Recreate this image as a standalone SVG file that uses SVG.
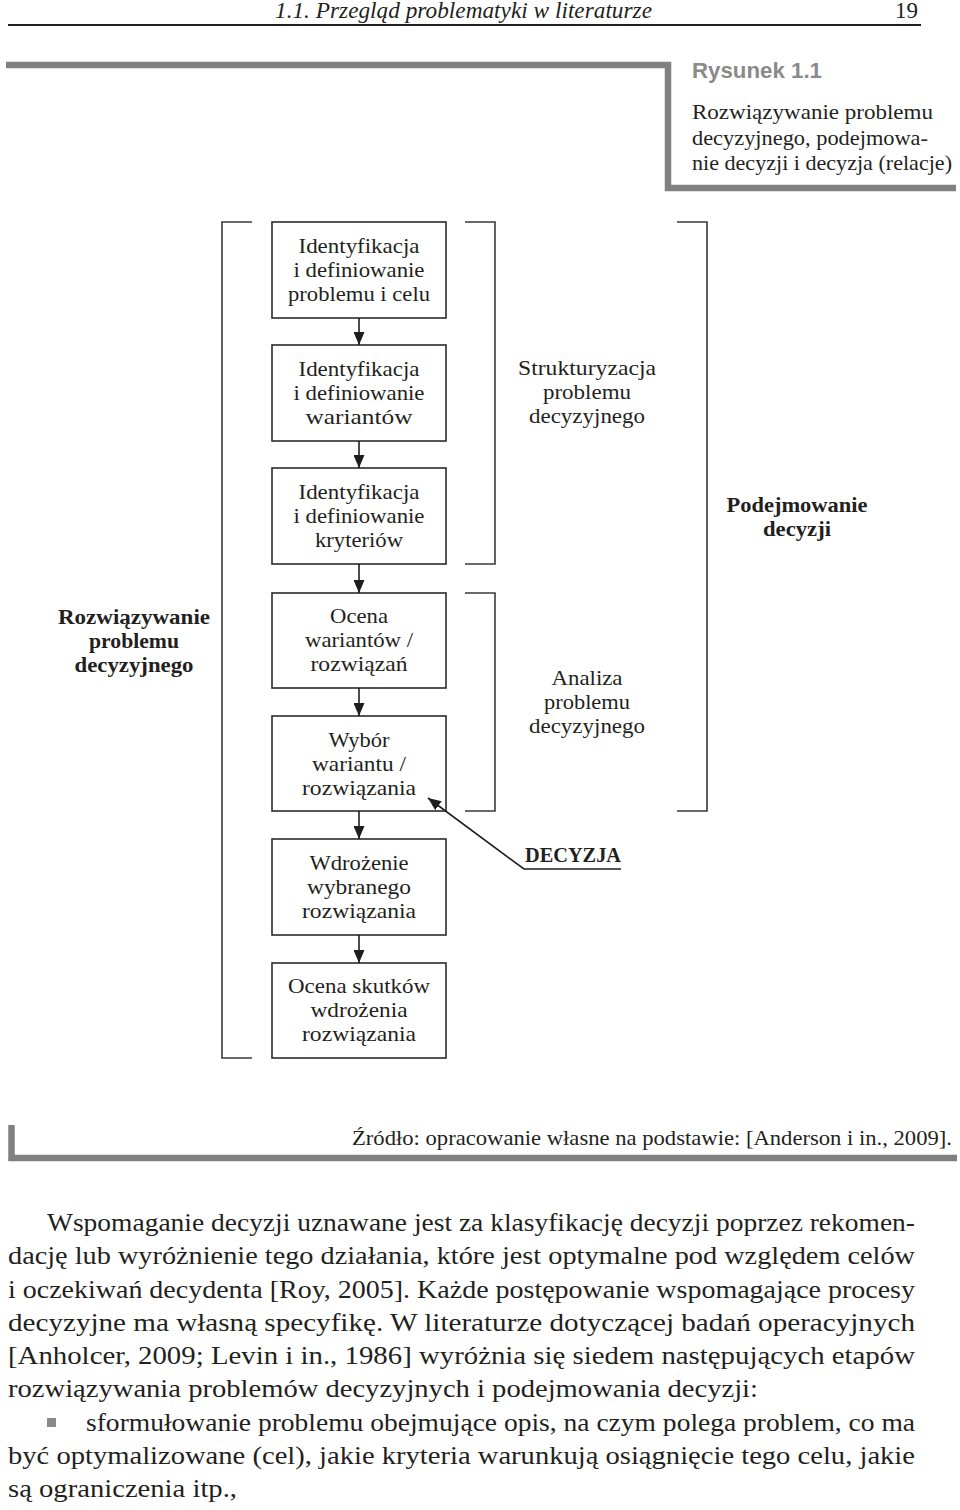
<svg xmlns="http://www.w3.org/2000/svg" width="960" height="1510" viewBox="0 0 960 1510">
<style>
  .bg{fill:#ffffff}
  .box{fill:#ffffff;stroke:#2b2b2b;stroke-width:1.6}
  .br{fill:none;stroke:#3a3a3a;stroke-width:1.6}
  .conn{fill:none;stroke:#1e1e1e;stroke-width:1.6}
  .frame{fill:none;stroke:#808080;stroke-width:6.5;stroke-linejoin:miter}
  .t{font-family:"Liberation Serif","Times New Roman",serif;font-size:22px;fill:#231f20;text-anchor:middle}
  .b{font-family:"Liberation Serif","Times New Roman",serif;font-size:22px;font-weight:bold;fill:#231f20;text-anchor:middle}
  .body{font-family:"Liberation Serif","Times New Roman",serif;font-size:25px;fill:#231f20}
  .cap{font-family:"Liberation Serif","Times New Roman",serif;font-size:21px;fill:#231f20}
  .src{font-family:"Liberation Serif","Times New Roman",serif;font-size:22px;fill:#231f20}
  .hdr{font-family:"Liberation Serif","Times New Roman",serif;font-size:23px;font-style:italic;fill:#231f20}
  .pg{font-family:"Liberation Serif","Times New Roman",serif;font-size:23px;fill:#231f20}
  .rys{font-family:"Liberation Sans",Arial,sans-serif;font-size:22px;font-weight:bold;fill:#8a8a8a}
</style>
<defs>
  <marker id="ah" markerUnits="userSpaceOnUse" markerWidth="13" markerHeight="11" refX="13" refY="5.5" orient="auto">
    <path d="M0,0 L13,5.5 L0,11 z" fill="#1e1e1e"/>
  </marker>
</defs>
<rect class="bg" x="0" y="0" width="960" height="1510"/>

<!-- page header -->
<g id="header">
  <text class="hdr" x="275" y="18" textLength="377" lengthAdjust="spacingAndGlyphs">1.1. Przegląd problematyki w literaturze</text>
  <text class="pg" x="895" y="18">19</text>
  <line x1="8" y1="25" x2="921" y2="25" stroke="#231f20" stroke-width="2"/>
</g>

<!-- figure caption frame -->
<g id="caption">
  <path class="frame" d="M6,65 L668,65 L668,188 L956,188"/>
  <text class="rys" x="692" y="78" textLength="130" lengthAdjust="spacingAndGlyphs">Rysunek 1.1</text>
  <text class="cap" x="692" y="119" textLength="241" lengthAdjust="spacingAndGlyphs">Rozwiązywanie problemu</text>
  <text class="cap" x="692" y="145" textLength="236" lengthAdjust="spacingAndGlyphs">decyzyjnego, podejmowa-</text>
  <text class="cap" x="692" y="170" textLength="260" lengthAdjust="spacingAndGlyphs">nie decyzji i decyzja (relacje)</text>
</g>

<!-- brackets -->
<g id="brackets">
  <path class="br" d="M252,222 L222,222 L222,1058 L252,1058"/>
  <path class="br" d="M465,222 L495,222 L495,564 L465,564"/>
  <path class="br" d="M677,222 L707,222 L707,811 L677,811"/>
  <path class="br" d="M465,593 L495,593 L495,811 L465,811"/>
</g>

<!-- side labels -->
<g id="label-strukturyzacja">
  <text class="t" x="587" y="375" textLength="138" lengthAdjust="spacingAndGlyphs">Strukturyzacja</text>
  <text class="t" x="587" y="399" textLength="88" lengthAdjust="spacingAndGlyphs">problemu</text>
  <text class="t" x="587" y="423" textLength="116" lengthAdjust="spacingAndGlyphs">decyzyjnego</text>
</g>
<g id="label-podejmowanie">
  <text class="b" x="797" y="512" textLength="141" lengthAdjust="spacingAndGlyphs">Podejmowanie</text>
  <text class="b" x="797" y="536" textLength="68" lengthAdjust="spacingAndGlyphs">decyzji</text>
</g>
<g id="label-rozwiazywanie">
  <text class="b" x="134" y="624" textLength="152" lengthAdjust="spacingAndGlyphs">Rozwiązywanie</text>
  <text class="b" x="134" y="648" textLength="90" lengthAdjust="spacingAndGlyphs">problemu</text>
  <text class="b" x="134" y="672" textLength="119" lengthAdjust="spacingAndGlyphs">decyzyjnego</text>
</g>
<g id="label-analiza">
  <text class="t" x="587" y="685" textLength="71" lengthAdjust="spacingAndGlyphs">Analiza</text>
  <text class="t" x="587" y="709" textLength="86" lengthAdjust="spacingAndGlyphs">problemu</text>
  <text class="t" x="587" y="733" textLength="116" lengthAdjust="spacingAndGlyphs">decyzyjnego</text>
</g>
<g id="label-decyzja">
  <text class="b" x="525" y="862" style="text-anchor:start;font-size:20px" textLength="96" lengthAdjust="spacingAndGlyphs">DECYZJA</text>
</g>

<!-- process boxes -->
<g id="box1">
  <rect class="box" x="272" y="222" width="174" height="96"/>
  <text class="t" x="359" y="253" textLength="121" lengthAdjust="spacingAndGlyphs">Identyfikacja</text>
  <text class="t" x="359" y="277" textLength="131" lengthAdjust="spacingAndGlyphs">i definiowanie</text>
  <text class="t" x="359" y="301" textLength="142" lengthAdjust="spacingAndGlyphs">problemu i celu</text>
</g>
<g id="box2">
  <rect class="box" x="272" y="345" width="174" height="96"/>
  <text class="t" x="359" y="376" textLength="121" lengthAdjust="spacingAndGlyphs">Identyfikacja</text>
  <text class="t" x="359" y="400" textLength="131" lengthAdjust="spacingAndGlyphs">i definiowanie</text>
  <text class="t" x="359" y="424" textLength="107" lengthAdjust="spacingAndGlyphs">wariantów</text>
</g>
<g id="box3">
  <rect class="box" x="272" y="468" width="174" height="96"/>
  <text class="t" x="359" y="499" textLength="121" lengthAdjust="spacingAndGlyphs">Identyfikacja</text>
  <text class="t" x="359" y="523" textLength="131" lengthAdjust="spacingAndGlyphs">i definiowanie</text>
  <text class="t" x="359" y="547" textLength="88" lengthAdjust="spacingAndGlyphs">kryteriów</text>
</g>
<g id="box4">
  <rect class="box" x="272" y="593" width="174" height="95"/>
  <text class="t" x="359" y="623" textLength="58" lengthAdjust="spacingAndGlyphs">Ocena</text>
  <text class="t" x="359" y="647" textLength="108" lengthAdjust="spacingAndGlyphs">wariantów /</text>
  <text class="t" x="359" y="671" textLength="97" lengthAdjust="spacingAndGlyphs">rozwiązań</text>
</g>
<g id="box5">
  <rect class="box" x="272" y="716" width="174" height="95"/>
  <text class="t" x="359" y="747" textLength="61" lengthAdjust="spacingAndGlyphs">Wybór</text>
  <text class="t" x="359" y="771" textLength="94" lengthAdjust="spacingAndGlyphs">wariantu /</text>
  <text class="t" x="359" y="795" textLength="114" lengthAdjust="spacingAndGlyphs">rozwiązania</text>
</g>
<g id="box6">
  <rect class="box" x="272" y="839" width="174" height="96"/>
  <text class="t" x="359" y="870" textLength="99" lengthAdjust="spacingAndGlyphs">Wdrożenie</text>
  <text class="t" x="359" y="894" textLength="104" lengthAdjust="spacingAndGlyphs">wybranego</text>
  <text class="t" x="359" y="918" textLength="114" lengthAdjust="spacingAndGlyphs">rozwiązania</text>
</g>
<g id="box7">
  <rect class="box" x="272" y="963" width="174" height="95"/>
  <text class="t" x="359" y="993" textLength="142" lengthAdjust="spacingAndGlyphs">Ocena skutków</text>
  <text class="t" x="359" y="1017" textLength="97" lengthAdjust="spacingAndGlyphs">wdrożenia</text>
  <text class="t" x="359" y="1041" textLength="114" lengthAdjust="spacingAndGlyphs">rozwiązania</text>
</g>

<!-- connectors -->
<g id="connectors">
  <line class="conn" x1="359" y1="318" x2="359" y2="345" marker-end="url(#ah)"/>
  <line class="conn" x1="359" y1="441" x2="359" y2="468" marker-end="url(#ah)"/>
  <line class="conn" x1="359" y1="564" x2="359" y2="593" marker-end="url(#ah)"/>
  <line class="conn" x1="359" y1="688" x2="359" y2="716" marker-end="url(#ah)"/>
  <line class="conn" x1="359" y1="811" x2="359" y2="839" marker-end="url(#ah)"/>
  <line class="conn" x1="359" y1="935" x2="359" y2="963" marker-end="url(#ah)"/>
  <polyline class="conn" points="621,869 524,869 428,798" marker-end="url(#ah)"/>
</g>

<!-- source line -->
<g id="source">
  <path class="frame" d="M11.5,1125 L11.5,1158 L957,1158"/>
  <text class="src" x="352" y="1145" textLength="600" lengthAdjust="spacingAndGlyphs">Źródło: opracowanie własne na podstawie: [Anderson i in., 2009].</text>
</g>

<!-- body text -->
<g id="body">
  <text class="body" x="47" y="1231" textLength="868" lengthAdjust="spacingAndGlyphs">Wspomaganie decyzji uznawane jest za klasyfikację decyzji poprzez rekomen-</text>
  <text class="body" x="8" y="1264" textLength="907" lengthAdjust="spacingAndGlyphs">dację lub wyróżnienie tego działania, które jest optymalne pod względem celów</text>
  <text class="body" x="8" y="1298" textLength="907" lengthAdjust="spacingAndGlyphs">i oczekiwań decydenta [Roy, 2005]. Każde postępowanie wspomagające procesy</text>
  <text class="body" x="8" y="1331" textLength="907" lengthAdjust="spacingAndGlyphs">decyzyjne ma własną specyfikę. W literaturze dotyczącej badań operacyjnych</text>
  <text class="body" x="8" y="1364" textLength="907" lengthAdjust="spacingAndGlyphs">[Anholcer, 2009; Levin i in., 1986] wyróżnia się siedem następujących etapów</text>
  <text class="body" x="8" y="1397" textLength="750" lengthAdjust="spacingAndGlyphs">rozwiązywania problemów decyzyjnych i podejmowania decyzji:</text>
  <rect x="47" y="1418" width="9" height="9" fill="#8a8a8a"/>
  <text class="body" x="86" y="1431" textLength="829" lengthAdjust="spacingAndGlyphs">sformułowanie problemu obejmujące opis, na czym polega problem, co ma</text>
  <text class="body" x="8" y="1464" textLength="907" lengthAdjust="spacingAndGlyphs">być optymalizowane (cel), jakie kryteria warunkują osiągnięcie tego celu, jakie</text>
  <text class="body" x="8" y="1497" textLength="229" lengthAdjust="spacingAndGlyphs">są ograniczenia itp.,</text>
</g>
</svg>
